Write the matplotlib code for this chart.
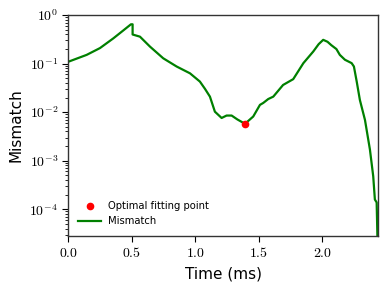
import matplotlib
matplotlib.use("Agg")
import matplotlib.pyplot as plt
import matplotlib.ticker as mticker
import numpy as np

plt.rcParams['mathtext.fontset'] = 'cm'

# Mismatch curve (time in ms, log10 of mismatch)
time_ms = [0.0, 0.143, 0.248, 0.353, 0.43, 0.492, 0.505, 0.505, 0.563, 0.642,
           0.746, 0.852, 0.957, 1.035, 1.075, 1.114, 1.153, 1.206,
           1.245, 1.285, 1.33, 1.39, 1.455, 1.508, 1.534, 1.573, 1.613, 1.69,
           1.73, 1.77, 1.85, 1.928, 1.97, 2.006, 2.04, 2.07, 2.11, 2.137,
           2.177, 2.23, 2.248, 2.27, 2.295, 2.335, 2.374, 2.40,
           2.413, 2.427, 2.430, 2.434]
log_mismatch = [-0.96, -0.82, -0.68, -0.48, -0.32, -0.19, -0.19, -0.40, -0.445, -0.65,
                -0.89, -1.06, -1.20, -1.37, -1.52, -1.68, -1.99, -2.12,
                -2.07, -2.07, -2.15, -2.24, -2.09, -1.85, -1.81, -1.73, -1.68, -1.44,
                -1.38, -1.32, -0.99, -0.75, -0.60, -0.51, -0.55, -0.62, -0.70, -0.82,
                -0.92, -0.99, -1.06, -1.37, -1.75, -2.16, -2.77, -3.32,
                -3.80, -3.86, -4.20, -4.70]
mismatch = [10 ** v for v in log_mismatch]

opt_time = [1.39]
opt_mismatch = [10 ** -2.24]

xticks = [0.0, 0.5, 1.0, 1.5, 2.0]

fig = plt.figure(figsize=(3.88, 2.90), dpi=100)
ax = fig.add_axes([0.1765, 0.186, 0.7985, 0.762])

ax.plot(opt_time, opt_mismatch, 'o', color='red', markersize=4.5,
        label='Optimal fitting point', zorder=3)
ax.plot(time_ms, mismatch, '-', color='green', linewidth=1.6, label='Mismatch')

ax.set_yscale('log')
ax.set_xlim(0, 2.44)
ax.set_ylim(2.8e-5, 1.0)
ax.set_xticks(xticks)
ax.xaxis.set_major_formatter(mticker.FuncFormatter(lambda v, p: r'$%.1f$' % v))
ax.yaxis.set_major_locator(mticker.LogLocator(base=10, numticks=10))
ax.yaxis.set_minor_locator(mticker.LogLocator(base=10, subs=np.arange(2, 10), numticks=20))
ax.yaxis.set_minor_formatter(mticker.NullFormatter())
ax.yaxis.set_major_formatter(mticker.FuncFormatter(lambda v, p: r'$10^{%d}$' % round(np.log10(v))))

ax.tick_params(axis='both', which='major', labelsize=10, length=4, width=0.8, direction='out')
ax.tick_params(axis='y', which='minor', length=2, width=0.6, direction='out')
for s in ax.spines.values():
    s.set_linewidth(1.0)
    s.set_color('#333333')

ax.set_xlabel('Time (ms)', fontsize=11)
ax.set_ylabel('Mismatch', fontsize=11)

ax.legend(loc='lower left', frameon=False, fontsize=7.2, handlelength=2.3,
          handletextpad=0.7, borderaxespad=0.0, bbox_to_anchor=(0.018, 0.026))

fig.savefig('out.png', dpi=100)
